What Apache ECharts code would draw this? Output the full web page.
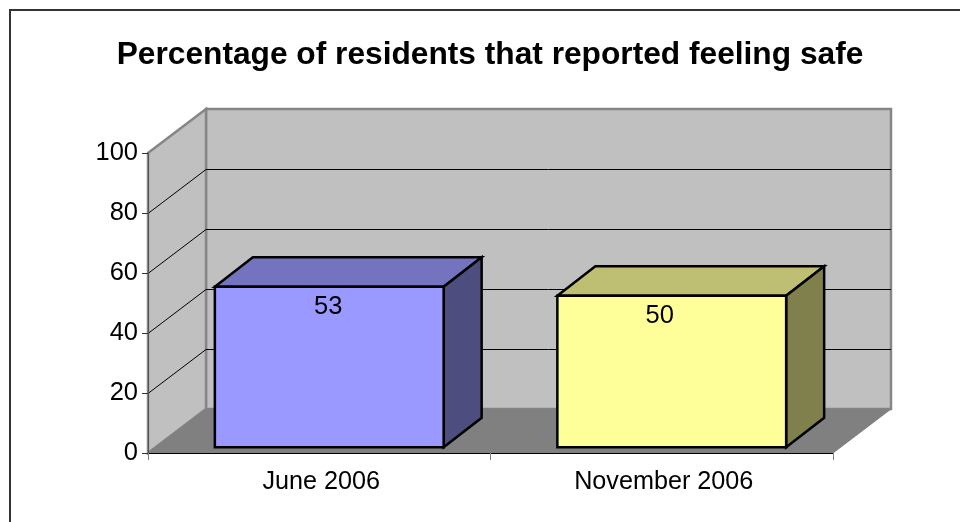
<!DOCTYPE html>
<html>
<head>
<meta charset="utf-8">
<style>html,body{margin:0;padding:0;background:#fff}#c{width:960px;height:522px}</style>
<script src="https://cdn.jsdelivr.net/npm/echarts@6/dist/echarts.min.js"></script>
</head>
<body>
<div id="c"></div>
<script>
var titleText = 'Percentage of residents that reported feeling safe';
var categories = ['June 2006', 'November 2006'];
var values = [53, 50];
var gridTicks = [20, 40, 60, 80];
var frontColors = ['#9999ff', '#ffff99'];
var topColors = ['#7373bf', '#bfbf73'];
var sideColors = ['#4d4d80', '#80804d'];
var labelShift = [-1, -12];

var FONT = '"Liberation Sans", Arial, sans-serif';
var WALL_DX = 58, WALL_DY = 44;   // depth of the 3D box
var BAR_DX = 38, BAR_DY = 29.5;   // depth of a bar
var BAR_WIDTH_RATIO = 0.668;
var BAR_BASE_LIFT = 5.7;
var BAR_HEIGHT_SCALE = 1.01;
var BAR_STROKE = 2.5;

function poly(points, fill, stroke, lineWidth, z2) {
  return {
    type: 'polygon', z2: z2 || 0,
    shape: { points: points },
    style: { fill: fill, stroke: stroke || null, lineWidth: lineWidth || 0, lineJoin: 'miter' }
  };
}

function renderWalls(params) {
  var c = params.coordSys, L = c.x, T = c.y, R = c.x + c.width, B = c.y + c.height;
  var bL = L + WALL_DX, bR = R + WALL_DX, bT = T - WALL_DY, bB = B - WALL_DY;
  return {
    type: 'group',
    children: [
      poly([[bL, bT], [bR, bT], [bR, bB], [bL, bB]], '#c0c0c0', '#868686', 2.5),
      poly([[L, T], [bL, bT], [bL, bB], [L, B]], '#c0c0c0', '#868686', 2.5),
      poly([[L, B], [bL, bB], [bR, bB], [R, B]], '#808080', '#808080', 1)
    ]
  };
}

function renderGridLine(params, api) {
  var c = params.coordSys;
  var y = Math.round(api.coord([0, api.value(1)])[1]) + 0.5;
  var L = c.x, bL = L + WALL_DX, bR = L + c.width + WALL_DX, by = y - WALL_DY;
  return {
    type: 'polyline',
    shape: { points: [[L, y], [bL, by], [bR, by]] },
    style: { fill: null, stroke: '#000', lineWidth: 1 }
  };
}

function renderBar(params, api) {
  var i = api.value(0);
  var base = api.coord([i, 0]);
  var tip = api.coord([i, api.value(1)]);
  var band = api.size([1, 0])[0];
  var w = band * BAR_WIDTH_RATIO;
  var cx = base[0] + WALL_DX / 2;
  var x0 = cx - (w + BAR_DX) / 2, x1 = x0 + w;
  var yB = base[1] - BAR_BASE_LIFT;
  var yT = yB - (base[1] - tip[1]) * BAR_HEIGHT_SCALE;
  return {
    type: 'group',
    children: [
      poly([[x0, yT], [x0 + BAR_DX, yT - BAR_DY], [x1 + BAR_DX, yT - BAR_DY], [x1, yT]], topColors[i], '#000', BAR_STROKE),
      poly([[x1, yT], [x1 + BAR_DX, yT - BAR_DY], [x1 + BAR_DX, yB - BAR_DY], [x1, yB]], sideColors[i], '#000', BAR_STROKE),
      poly([[x0, yT], [x1, yT], [x1, yB], [x0, yB]], frontColors[i], '#000', BAR_STROKE),
      {
        type: 'text', z2: 5,
        style: {
          x: (x0 + x1) / 2 + labelShift[i], y: yT + 20,
          text: String(api.value(1)),
          fill: '#000', font: '25.5px ' + FONT,
          align: 'center', verticalAlign: 'middle'
        }
      }
    ]
  };
}

var chart = echarts.init(document.getElementById('c'), null, { renderer: 'canvas' });
chart.setOption({
  animation: false,
  backgroundColor: '#fff',
  title: {
    text: titleText, left: 490, top: 34, textAlign: 'center',
    textStyle: { fontFamily: FONT, fontWeight: 'bold', fontSize: 31.7, color: '#000' },
    left: 485
  },
  graphic: [{
    type: 'rect', silent: true, z: 1,
    shape: { x: 10, y: 10, width: 1000, height: 600 },
    style: { fill: null, stroke: '#333', lineWidth: 2 }
  }],
  grid: { left: 148, right: 127, top: 153, bottom: 69 },
  xAxis: {
    type: 'category', data: categories, z: 4,
    axisLine: { lineStyle: { color: '#000', width: 1 } },
    axisTick: { show: true, length: 7, lineStyle: { color: '#808080' } },
    axisLabel: { fontFamily: FONT, fontSize: 25.2, color: '#000', margin: 17, padding: [0, 0, 0, 4] },
    splitLine: { show: false }
  },
  yAxis: {
    type: 'value', min: 0, max: 100, interval: 20, z: 4,
    axisLine: { show: true, lineStyle: { color: '#555', width: 1 } },
    axisTick: { show: true, length: 6, lineStyle: { color: '#333' } },
    axisLabel: { fontFamily: FONT, fontSize: 25.5, color: '#000', margin: 10 },
    splitLine: { show: false }
  },
  series: [
    { type: 'custom', name: 'walls', z: 1, silent: true, renderItem: renderWalls, data: [[0, 0]] },
    { type: 'custom', name: 'gridlines', z: 2, silent: true, renderItem: renderGridLine,
      data: gridTicks.map(function (t) { return [0, t]; }) },
    { type: 'custom', name: 'Percentage', z: 3, renderItem: renderBar,
      data: values.map(function (v, i) { return [i, v]; }) }
  ]
});
</script>
</body>
</html>
